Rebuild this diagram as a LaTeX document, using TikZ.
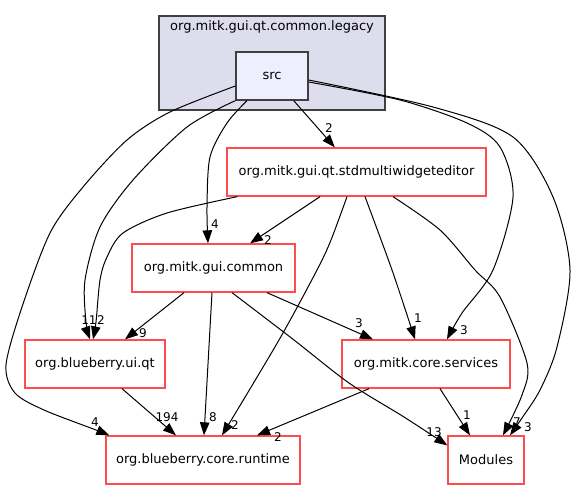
\documentclass[tikz,border=0pt]{standalone}
\usepackage{fontspec}
\setmainfont{DejaVu Sans}
\usetikzlibrary{arrows.meta,calc}
\definecolor{clfill}{HTML}{DDDDEE}
\definecolor{srcfill}{HTML}{EEEEFF}
\definecolor{darkb}{HTML}{404040}
\definecolor{redb}{HTML}{FF4D4D}
\tikzset{
  pkg/.style={draw=redb, line width=1.3pt, fill=white, minimum height=48pt, inner sep=0pt, font=\fontsize{13}{15}\selectfont},
  srcbox/.style={draw=darkb, line width=1.3pt, fill=srcfill, minimum width=72pt, minimum height=48pt, inner sep=0pt, font=\fontsize{13}{15}\selectfont},
  clbox/.style={draw=darkb, line width=1.3pt, fill=clfill, inner sep=0pt},
  dep/.style={draw=black, line width=1pt, -{Triangle[length=13pt,width=9.5pt]}},
  lbl/.style={inner sep=0pt, font=\fontsize{12}{14}\selectfont},
}
\begin{document}
\begin{tikzpicture}[x=1pt,y=-1pt]
\useasboundingbox (0,0) rectangle (576,489);
\node[clbox, minimum width=226pt, minimum height=94pt] (cl) at (272,63) {};
\node[inner sep=0pt, font=\fontsize{13}{15}\selectfont] (cllbl) at (272,27) {org.mitk.gui.qt.common.legacy};
\node[srcbox] (src) at (272,76) {src};
\node[pkg, minimum width=259pt] (sme) at (356.5,172) {org.mitk.gui.qt.stdmultiwidgeteditor};
\node[pkg, minimum width=163pt] (gc) at (213.5,268) {org.mitk.gui.common};
\node[pkg, minimum width=140pt] (uq) at (95,364) {org.blueberry.ui.qt};
\node[pkg, minimum width=168pt] (cs) at (426,364) {org.mitk.core.services};
\node[pkg, minimum width=194pt] (cr) at (203,460) {org.blueberry.core.runtime};
\node[pkg, minimum width=76pt] (mo) at (486,460) {Modules};

% src edges
\draw[dep] (src) -- (sme);
\draw[dep] plot[smooth] coordinates {($(src.south)+(-25,0)$) (227,123) (210,157) (207,207) ($(gc.north)+(-5.5,0)$)};
\draw[dep] plot[smooth] coordinates {(src.south west) (187,127) (133,180) (100,227) (85,280) (86,322) ($(uq.north)+(-5,0)$)};
\draw[dep] plot[smooth] coordinates {($(src.west)+(0,10)$) (170,112) (127,140) (83,187) (50,233) (22,307) (6,365) (15,393) (44,410) (96,430) ($(cr.north west)+(4,0)$)};
\draw[dep] plot[smooth] coordinates {($(src.east)+(0,6)$) (400,100) (467,123) (500,147) (513,197) (493,270) (462,313) ($(cs.north)+(21,0)$)};
\draw[dep] plot[smooth] coordinates {($(src.east)+(0,4)$) (433,107) (513,137) (553,197) (570,270) (557,347) (540,390) (522,418) ($(mo.north)+(24,0)$)};
% sme edges
\draw[dep] ($(sme.south)+(-36.5,0)$) -- ($(gc.north)+(36.5,0)$);
\draw[dep] plot[smooth] coordinates {($(sme.south west)+(11,0)$) (167,213) (123,233) (107,257) (100,280) (96,322) ($(uq.north)+(-2,0)$)};
\draw[dep] plot[smooth] coordinates {($(sme.south)+(-9.5,0)$) (331,240) (317,270) (279,340) ($(cr.north)+(19,0)$)};
\draw[dep] plot[smooth] coordinates {($(sme.south)+(8.5,0)$) (392,270) ($(cs.north)+(-11,0)$)};
\draw[dep] plot[smooth] coordinates {($(sme.south)+(36.5,0)$) (440,230) (475,270) (500,297) (527,363) (522,395) ($(mo.north)+(17,0)$)};
% gc edges
\draw[dep] ($(gc.south)+(-29.5,0)$) -- ($(uq.north)+(30,0)$);
\draw[dep] ($(gc.south)+(-1.5,0)$) -- ($(cr.north)+(1,0)$);
\draw[dep] plot[smooth] coordinates {($(gc.south)+(18.5,0)$) (294,340) (349,383) (404,417) ($(mo.north west)+(0,10)$)};
\draw[dep] ($(gc.south)+(53.5,0)$) -- ($(cs.north)+(-53,0)$);
% lower edges
\draw[dep] ($(uq.south)+(27,0)$) -- ($(cr.north)+(-27,0)$);
\draw[dep] ($(cs.south)+(-57,0)$) -- ($(cr.north)+(54,0)$);
\draw[dep] ($(cs.south)+(14,0)$) -- ($(mo.north)+(-16,0)$);

% labels
\node[lbl] (l1) at (329,128) {2};
\node[lbl] (l2) at (215,224) {4};
\node[lbl] (l3) at (89,320) {11};
\node[lbl] (l4) at (95,422) {4};
\node[lbl] (l5) at (464,330) {3};
\node[lbl] (l6) at (528,427) {3};
\node[lbl] (l7) at (268,240) {2};
\node[lbl] (l8) at (101,320) {2};
\node[lbl] (l9) at (235,425) {2};
\node[lbl] (l10) at (418,318) {1};
\node[lbl] (l11) at (517,422) {7};
\node[lbl] (l12) at (143,333) {9};
\node[lbl] (l13) at (213,417) {8};
\node[lbl] (l14) at (434,432) {13};
\node[lbl] (l15) at (359,323) {3};
\node[lbl] (l16) at (167,417) {194};
\node[lbl] (l17) at (278,437) {2};
\node[lbl] (l18) at (467,415) {1};
\end{tikzpicture}
\end{document}
